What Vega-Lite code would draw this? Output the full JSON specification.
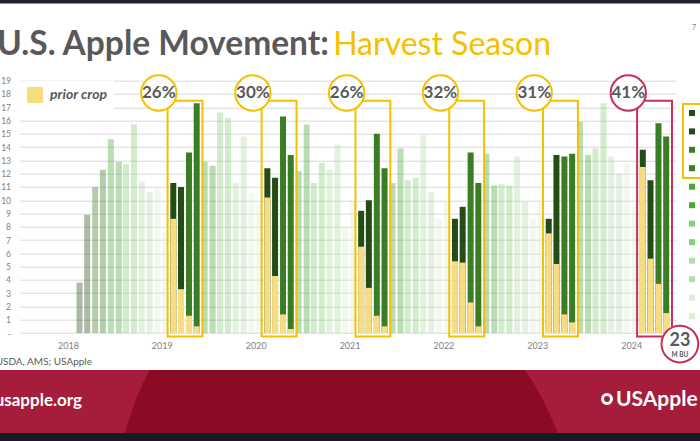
{
  "$schema": "https://vega.github.io/schema/vega-lite/v6.json",
  "usermeta": {"embedOptions": {"actions": false}},
  "width": 656,
  "height": 252.3,
  "autosize": {"type": "none"},
  "padding": {"left": 20, "top": 80.7, "right": 24, "bottom": 108},
  "background": "white",
  "config": {"view": {"stroke": null}, "font": "Lato", "legend": {"symbolStrokeWidth": 0}, "scale": {"continuousPadding": 0}},
  "datasets": {
    "moves": [
      {"date":"2018-09-01","month":"Sep","total":3.8},
      {"date":"2018-10-01","month":"Oct","total":8.9},
      {"date":"2018-11-01","month":"Nov","total":11.0},
      {"date":"2018-12-01","month":"Dec","total":12.3},
      {"date":"2019-01-01","month":"Jan","total":14.6},
      {"date":"2019-02-01","month":"Feb","total":12.9},
      {"date":"2019-03-01","month":"Mar","total":12.7},
      {"date":"2019-04-01","month":"Apr","total":15.7},
      {"date":"2019-05-01","month":"May","total":11.4},
      {"date":"2019-06-01","month":"Jun","total":10.6},
      {"date":"2019-07-01","month":"Jul","total":10.9},
      {"date":"2019-08-01","month":"Aug","total":7.6},
      {"date":"2019-09-01","month":"Sep","total":11.3,"prior":8.6},
      {"date":"2019-10-01","month":"Oct","total":11.0,"prior":3.3},
      {"date":"2019-11-01","month":"Nov","total":13.6,"prior":1.3},
      {"date":"2019-12-01","month":"Dec","total":17.3,"prior":0.5},
      {"date":"2020-01-01","month":"Jan","total":12.9},
      {"date":"2020-02-01","month":"Feb","total":12.6},
      {"date":"2020-03-01","month":"Mar","total":16.6},
      {"date":"2020-04-01","month":"Apr","total":16.2},
      {"date":"2020-05-01","month":"May","total":11.3},
      {"date":"2020-06-01","month":"Jun","total":14.8},
      {"date":"2020-07-01","month":"Jul","total":10.5},
      {"date":"2020-08-01","month":"Aug","total":9.6},
      {"date":"2020-09-01","month":"Sep","total":12.4,"prior":10.2},
      {"date":"2020-10-01","month":"Oct","total":11.7,"prior":4.3},
      {"date":"2020-11-01","month":"Nov","total":16.3,"prior":1.4},
      {"date":"2020-12-01","month":"Dec","total":13.4,"prior":0.3},
      {"date":"2021-01-01","month":"Jan","total":12.2},
      {"date":"2021-02-01","month":"Feb","total":15.7},
      {"date":"2021-03-01","month":"Mar","total":11.3},
      {"date":"2021-04-01","month":"Apr","total":12.8},
      {"date":"2021-05-01","month":"May","total":12.3},
      {"date":"2021-06-01","month":"Jun","total":14.2},
      {"date":"2021-07-01","month":"Jul","total":8.0},
      {"date":"2021-08-01","month":"Aug","total":10.0},
      {"date":"2021-09-01","month":"Sep","total":9.2,"prior":6.5},
      {"date":"2021-10-01","month":"Oct","total":10.0,"prior":3.4},
      {"date":"2021-11-01","month":"Nov","total":15.0,"prior":1.3},
      {"date":"2021-12-01","month":"Dec","total":12.4,"prior":0.5},
      {"date":"2022-01-01","month":"Jan","total":11.3},
      {"date":"2022-02-01","month":"Feb","total":13.9},
      {"date":"2022-03-01","month":"Mar","total":11.5},
      {"date":"2022-04-01","month":"Apr","total":11.7},
      {"date":"2022-05-01","month":"May","total":14.9},
      {"date":"2022-06-01","month":"Jun","total":10.6},
      {"date":"2022-07-01","month":"Jul","total":8.6},
      {"date":"2022-08-01","month":"Aug","total":9.9},
      {"date":"2022-09-01","month":"Sep","total":8.6,"prior":5.4},
      {"date":"2022-10-01","month":"Oct","total":9.5,"prior":5.3},
      {"date":"2022-11-01","month":"Nov","total":13.6,"prior":2.3},
      {"date":"2022-12-01","month":"Dec","total":11.3,"prior":0.5},
      {"date":"2023-01-01","month":"Jan","total":13.5},
      {"date":"2023-02-01","month":"Feb","total":11.1},
      {"date":"2023-03-01","month":"Mar","total":11.2},
      {"date":"2023-04-01","month":"Apr","total":11.1},
      {"date":"2023-05-01","month":"May","total":13.3},
      {"date":"2023-06-01","month":"Jun","total":9.9},
      {"date":"2023-07-01","month":"Jul","total":8.6},
      {"date":"2023-08-01","month":"Aug","total":9.8},
      {"date":"2023-09-01","month":"Sep","total":8.6,"prior":7.5},
      {"date":"2023-10-01","month":"Oct","total":13.4,"prior":5.2},
      {"date":"2023-11-01","month":"Nov","total":13.3,"prior":1.4},
      {"date":"2023-12-01","month":"Dec","total":13.5,"prior":0.8},
      {"date":"2024-01-01","month":"Jan","total":15.9},
      {"date":"2024-02-01","month":"Feb","total":13.4},
      {"date":"2024-03-01","month":"Mar","total":13.9},
      {"date":"2024-04-01","month":"Apr","total":17.3},
      {"date":"2024-05-01","month":"May","total":13.3},
      {"date":"2024-06-01","month":"Jun","total":12.0},
      {"date":"2024-07-01","month":"Jul","total":12.7},
      {"date":"2024-08-01","month":"Aug","total":9.5},
      {"date":"2024-09-01","month":"Sep","total":13.8,"prior":12.5},
      {"date":"2024-10-01","month":"Oct","total":11.5,"prior":5.6},
      {"date":"2024-11-01","month":"Nov","total":15.8,"prior":3.7},
      {"date":"2024-12-01","month":"Dec","total":14.8,"prior":1.5}
    ],
    "seasons": [
      {"season":2019,"start":"2019-09-01","end":"2019-12-01","share":"26%"},
      {"season":2020,"start":"2020-09-01","end":"2020-12-01","share":"30%"},
      {"season":2021,"start":"2021-09-01","end":"2021-12-01","share":"26%"},
      {"season":2022,"start":"2022-09-01","end":"2022-12-01","share":"32%"},
      {"season":2023,"start":"2023-09-01","end":"2023-12-01","share":"31%"},
      {"season":2024,"start":"2024-09-01","end":"2024-12-01","share":"41%"}
    ],
    "note": [{"date":"2024-12-01","prior_total":23}]
  },
  "layer": [
    {
      "data": {"values": [{}]},
      "mark": {"type": "rect", "color": "#a61d3b"},
      "encoding": {
        "x": {
          "datum": {"year":2017,"month":1,"date":1,"utc":true}, "type": "temporal", "axis": null,
          "scale": {"type": "utc", "padding": 0, "domain": [{"year":2018,"month":1,"date":12,"hours":11,"utc":true},{"year":2025,"month":1,"date":8,"hours":5,"utc":true}]}
        },
        "x2": {"datum": {"year":2026,"month":12,"date":31,"utc":true}},
        "y": {"datum": -2.79, "type": "quantitative", "axis": null, "scale": {"domain": [0, 19], "nice": false, "padding": 0}},
        "y2": {"datum": -7.53}
      }
    },
    {
      "data": {"values": [{}]},
      "mark": {"type": "point", "filled": true, "color": "#8a0b24", "opacity": 1, "strokeWidth": 0, "size": 187489,
               "shape": "M-0.885,-0.1455L0.848,-0.1455Q0.93,-0.03,1,0.1455L-1,0.1455Q-0.95,-0.03,-0.885,-0.1455Z"},
      "encoding": {
        "x": {"datum": {"year":2021,"month":6,"date":16,"utc":true}, "type": "temporal", "axis": null},
        "y": {"datum": -5.16, "type": "quantitative", "axis": null}
      }
    },
    {
      "data": {"values": [{}]},
      "mark": {"type": "rect", "color": "#161b26"},
      "encoding": {
        "x": {"datum": {"year":2017,"month":1,"date":1,"utc":true}, "type": "temporal", "axis": null},
        "x2": {"datum": {"year":2026,"month":12,"date":31,"utc":true}},
        "y": {"datum": -7.53, "type": "quantitative", "axis": null},
        "y2": {"datum": -9.5}
      }
    },
    {
      "data": {"values": [{}]},
      "mark": {"type": "rect", "color": "#1d222d"},
      "encoding": {
        "x": {"datum": {"year":2017,"month":1,"date":1,"utc":true}, "type": "temporal", "axis": null},
        "x2": {"datum": {"year":2026,"month":12,"date":31,"utc":true}},
        "y": {"datum": 24.81, "type": "quantitative", "axis": null},
        "y2": {"datum": 26.5}
      }
    },
    {
      "data": {"name": "moves"},
      "transform": [{"filter": {"field": "month", "oneOf": ["Sep","Oct","Nov","Dec"]}}],
      "mark": {"type": "bar", "width": 6},
      "encoding": {
        "x": {
          "field": "date", "type": "temporal",
          "axis": {
            "values": [{"year":2018,"month":7,"date":18,"utc":true},{"year":2019,"month":7,"date":18,"utc":true},{"year":2020,"month":7,"date":18,"utc":true},{"year":2021,"month":7,"date":18,"utc":true},{"year":2022,"month":7,"date":18,"utc":true},{"year":2023,"month":7,"date":18,"utc":true},{"year":2024,"month":7,"date":18,"utc":true}],
            "format": "%Y", "grid": false, "ticks": false, "domain": false, "labelPadding": 8,
            "labelFontSize": 9, "labelColor": "#7f7f7f", "labelFont": "Lato", "title": null
          }
        },
        "y": {
          "field": "total", "type": "quantitative", "stack": null,
          "axis": {
            "values": [0,1,2,3,4,5,6,7,8,9,10,11,12,13,14,15,16,17,18,19],
            "tickCount": 40,
            "format": "d",
            "labelExpr": "datum.value == 0 ? '-' : format(datum.value, 'd')",
            "labelOverlap": false,
            "grid": true, "gridColor": "#d9d9d9", "ticks": false, "domain": false,
            "labelPadding": 9.5, "labelFontSize": 8.5, "labelColor": "#7f7f7f", "labelFont": "Lato", "title": null
          }
        },
        "color": {
          "field": "month", "type": "nominal",
          "scale": {"domain": ["Sep","Oct","Nov","Dec"], "range": ["#244d16","#244d16","#3a7d25","#3a7d25"]},
          "legend": {"orient": "none", "legendX": 663, "legendY": 23.3, "title": null, "symbolType": "square",
                     "symbolSize": 36, "symbolOpacity": 1, "labelFontSize": 6, "labelOffset": 14, "rowPadding": 12.4,
                     "padding": 6, "strokeColor": "#f5c000",
                     "encode": {"legend": {"update": {"stroke": {"value": "#f5c000"}, "strokeWidth": {"value": 2}}}}}
        },
        "opacity": {"condition": {"test": "isValid(datum.prior)", "value": 1}, "value": 0.38}
      }
    },
    {
      "data": {"name": "moves"},
      "transform": [{"filter": {"field": "month", "oneOf": ["Jan","Feb","Mar","Apr","May","Jun","Jul","Aug"]}}],
      "mark": {"type": "bar", "width": 6, "opacity": 0.38},
      "encoding": {
        "x": {"field": "date", "type": "temporal", "axis": null},
        "y": {"field": "total", "type": "quantitative", "stack": null, "axis": null},
        "color": {
          "field": "month", "type": "nominal",
          "scale": {"domain": ["Jan","Feb","Mar","Apr","May","Jun","Jul","Aug"], "range": ["#4da53b","#4da53b","#88d078","#88d078","#b3dea8","#b3dea8","#d9f0d3","#d9f0d3"]},
          "legend": {"orient": "none", "legendX": 663, "legendY": 97, "title": null, "symbolType": "square",
                     "symbolSize": 36, "symbolOpacity": 1, "labelFontSize": 6, "labelOffset": 14, "rowPadding": 12.5,
                     "padding": 6}
        }
      }
    },
    {
      "data": {"name": "moves"},
      "transform": [{"filter": "isValid(datum.prior)"}],
      "mark": {"type": "bar", "width": 6},
      "encoding": {
        "x": {"field": "date", "type": "temporal", "axis": null},
        "y": {"field": "prior", "type": "quantitative", "stack": null, "axis": null},
        "color": {
          "datum": "prior crop", "type": "nominal",
          "scale": {"range": ["#f7dc82"]},
          "legend": {"orient": "none", "legendX": 1, "legendY": 0.3, "title": null, "symbolType": "square",
                     "symbolSize": 256, "labelFont": "Lato", "labelFontSize": 14, "labelFontWeight": "bold",
                     "labelFontStyle": "italic", "labelColor": "#595959", "labelOffset": 7, "padding": 6, "fillColor": "white"}
        }
      }
    },
    {
      "data": {"name": "seasons"},
      "mark": {"type": "rect", "filled": false, "strokeWidth": 2, "xOffset": -5.7, "x2Offset": 5.8},
      "encoding": {
        "x": {"field": "start", "type": "temporal", "axis": null},
        "x2": {"field": "end"},
        "y": {"datum": 17.49, "type": "quantitative", "axis": null},
        "y2": {"datum": -0.26},
        "stroke": {"condition": {"test": "datum.season == 2024", "value": "#c8305a"}, "value": "#f5c000"}
      }
    },
    {
      "data": {"name": "seasons"},
      "mark": {"type": "point", "shape": "circle", "size": 1250, "filled": true, "fill": "white", "opacity": 1, "strokeWidth": 2, "xOffset": -14.5},
      "encoding": {
        "x": {"field": "start", "type": "temporal", "axis": null},
        "y": {"datum": 18.07, "type": "quantitative", "axis": null},
        "stroke": {"condition": {"test": "datum.season == 2024", "value": "#c8305a"}, "value": "#f5c000"}
      }
    },
    {
      "data": {"name": "seasons"},
      "mark": {"type": "text", "font": "Lato", "fontSize": 17, "fontWeight": "bold", "color": "#595959", "align": "center", "baseline": "middle", "xOffset": -14.5},
      "encoding": {
        "x": {"field": "start", "type": "temporal", "axis": null},
        "y": {"datum": 18.07, "type": "quantitative", "axis": null},
        "text": {"field": "share"}
      }
    },
    {
      "data": {"name": "note"},
      "mark": {"type": "point", "shape": "circle", "size": 1350, "filled": true, "fill": "white", "opacity": 1, "stroke": "#c8305a", "strokeWidth": 2, "xOffset": 13.7},
      "encoding": {
        "x": {"field": "date", "type": "temporal", "axis": null},
        "y": {"datum": -0.83, "type": "quantitative", "axis": null}
      }
    },
    {
      "data": {"name": "note"},
      "mark": {"type": "text", "font": "Lato", "fontSize": 18, "fontWeight": "bold", "color": "#595959", "align": "center", "baseline": "middle", "xOffset": 13.7},
      "encoding": {
        "x": {"field": "date", "type": "temporal", "axis": null},
        "y": {"datum": -0.59, "type": "quantitative", "axis": null},
        "text": {"field": "prior_total"}
      }
    },
    {
      "data": {"name": "note"},
      "mark": {"type": "text", "font": "Lato", "fontSize": 6.5, "fontWeight": "bold", "color": "#595959", "align": "center", "baseline": "middle", "xOffset": 13.7, "text": "M BU"},
      "encoding": {
        "x": {"field": "date", "type": "temporal", "axis": null},
        "y": {"datum": -1.66, "type": "quantitative", "axis": null}
      }
    },
    {
      "data": {"values": [{}]},
      "mark": {"type": "text", "font": "Lato", "fontSize": 33.5, "fontWeight": "bold", "color": "#595959", "align": "left", "baseline": "alphabetic", "text": "U.S. Apple Movement:"},
      "encoding": {
        "x": {"datum": {"year":2017,"month":10,"date":15,"utc":true}, "type": "temporal", "axis": null},
        "y": {"datum": 20.94, "type": "quantitative", "axis": null}
      }
    },
    {
      "data": {"values": [{}]},
      "mark": {"type": "text", "font": "Lato", "fontSize": 32, "fontWeight": "normal", "color": "#f5c000", "align": "left", "baseline": "alphabetic", "text": "Harvest Season"},
      "encoding": {
        "x": {"datum": {"year":2021,"month":5,"date":15,"utc":true}, "type": "temporal", "axis": null},
        "y": {"datum": 20.94, "type": "quantitative", "axis": null}
      }
    },
    {
      "data": {"values": [{}]},
      "mark": {"type": "text", "font": "Lato", "fontSize": 7, "color": "#7f7f7f", "align": "center", "baseline": "middle", "text": "7"},
      "encoding": {
        "x": {"datum": {"year":2025,"month":3,"date":19,"utc":true}, "type": "temporal", "axis": null},
        "y": {"datum": 22.97, "type": "quantitative", "axis": null}
      }
    },
    {
      "data": {"values": [{}]},
      "mark": {"type": "text", "font": "Lato", "fontSize": 10, "color": "#595959", "align": "right", "baseline": "middle", "text": "Sources: USDA, AMS; USApple"},
      "encoding": {
        "x": {"datum": {"year":2018,"month":10,"date":19,"hours":16,"utc":true}, "type": "temporal", "axis": null},
        "y": {"datum": -2.18, "type": "quantitative", "axis": null}
      }
    },
    {
      "data": {"values": [{}]},
      "mark": {"type": "text", "font": "Lato", "fontSize": 17, "fontWeight": "bold", "color": "white", "align": "right", "baseline": "middle", "text": "usapple.org"},
      "encoding": {
        "x": {"datum": {"year":2018,"month":9,"date":10,"hours":17,"utc":true}, "type": "temporal", "axis": null},
        "y": {"datum": -5.12, "type": "quantitative", "axis": null}
      }
    },
    {
      "data": {"values": [{}]},
      "mark": {"type": "text", "font": "Lato", "fontSize": 21, "fontWeight": "bold", "color": "white", "align": "left", "baseline": "middle", "text": "USApple"},
      "encoding": {
        "x": {"datum": {"year":2024,"month":5,"date":19,"hours":17,"utc":true}, "type": "temporal", "axis": null},
        "y": {"datum": -5.05, "type": "quantitative", "axis": null}
      }
    },
    {
      "data": {"values": [{}]},
      "mark": {"type": "point", "shape": "circle", "size": 80, "filled": false, "stroke": "white", "strokeWidth": 3, "opacity": 1},
      "encoding": {
        "x": {"datum": {"year":2024,"month":4,"date":14,"hours":17,"utc":true}, "type": "temporal", "axis": null},
        "y": {"datum": -4.97, "type": "quantitative", "axis": null}
      }
    }
  ],
  "resolve": {"scale": {"color": "independent"}, "legend": {"color": "independent"}, "axis": {"x": "independent", "y": "independent"}}
}
